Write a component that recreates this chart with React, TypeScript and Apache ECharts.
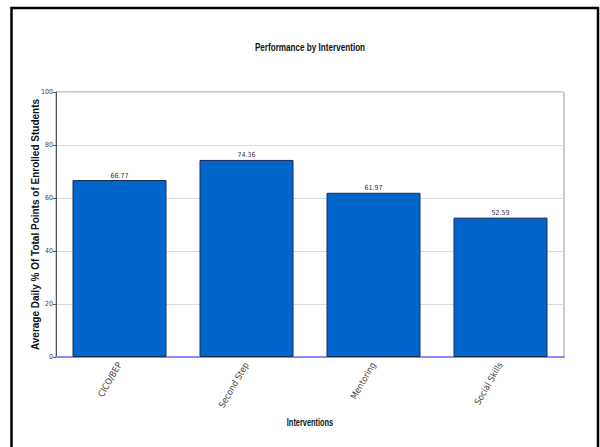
import React, { useEffect, useRef } from "react";
import * as echarts from "echarts";

const categories = ["CICO/BEP", "Second Step", "Mentoring", "Social Skills"];
const values = [66.77, 74.36, 61.97, 52.59];
const titleText = "Performance by Intervention";
const yAxisTitle = "Average Daily % Of Total Points of Enrolled Students";
const xAxisTitle = "Interventions";

const FONT = "'Liberation Sans', Arial, sans-serif";
const NARROW = "'DejaVu Sans Condensed', 'Liberation Sans Narrow', 'Liberation Sans', Arial, sans-serif";

export default function App() {
  const ref = useRef<HTMLDivElement>(null);

  useEffect(() => {
    if (!ref.current) return;
    const chart = echarts.init(ref.current, undefined, { renderer: "svg" });
    chart.setOption({
      animation: false,
      backgroundColor: "#ffffff",
      textStyle: { fontFamily: FONT },
      graphic: [
        // outer frame
        {
          type: "polyline",
          shape: { points: [[11.5, 460], [11.5, 8], [598, 8], [598, 460]] },
          style: { stroke: "#000", lineWidth: 2.5, fill: "none" },
          z: 10,
        },
        // condensed chart title
        {
          type: "text",
          x: 310,
          y: 47,
          scaleX: 0.74,
          style: {
            text: titleText,
            align: "center",
            verticalAlign: "middle",
            font: "bold 11px 'Liberation Sans', Arial, sans-serif",
            fill: "#111",
          },
        },
        // condensed x-axis title
        {
          type: "text",
          x: 310,
          y: 423,
          scaleX: 0.74,
          style: {
            text: xAxisTitle,
            align: "center",
            verticalAlign: "middle",
            font: "bold 10px 'Liberation Sans', Arial, sans-serif",
            fill: "#111",
          },
        },
      ],
      grid: {
        left: 56,
        right: 36,
        top: 92,
        bottom: 90,
        show: true,
        borderColor: "#999",
        borderWidth: 1,
      },
      xAxis: {
        type: "category",
        data: categories,
        axisLine: { lineStyle: { color: "#8a8aff", width: 2 } },
        axisTick: { alignWithLabel: true, length: 4, lineStyle: { color: "#8a8aff" } },
        axisLabel: { rotate: 60, fontSize: 9, color: "#444", margin: 6, fontFamily: NARROW },
      },
      yAxis: {
        type: "value",
        min: 0,
        max: 100,
        interval: 20,
        name: yAxisTitle,
        nameLocation: "middle",
        nameGap: 16,
        nameMoveOverlap: false,
        nameTextStyle: { fontSize: 10, fontWeight: "bold", color: "#111", fontFamily: FONT },
        axisLine: { show: true, lineStyle: { color: "#555", width: 1 } },
        axisTick: { show: true, length: 3, lineStyle: { color: "#555" } },
        axisLabel: { fontSize: 7, color: "#444", margin: 3, fontFamily: NARROW },
        splitLine: { lineStyle: { color: "#dcdcdc", width: 1 } },
      },
      series: [
        {
          type: "bar",
          data: values,
          barCategoryGap: "26%",
          itemStyle: { color: "#0066cc", borderColor: "#1a2a55", borderWidth: 1 },
          label: {
            show: true,
            position: "top",
            distance: 1,
            fontSize: 7,
            color: "#333",
            fontFamily: NARROW,
            formatter: (p: any) => p.value.toFixed(2),
          },
        },
      ],
    });
    return () => chart.dispose();
  }, []);

  return (
    <div
      ref={ref}
      style={{ position: "fixed", left: 0, top: 0, width: 600, height: 447 }}
    />
  );
}
